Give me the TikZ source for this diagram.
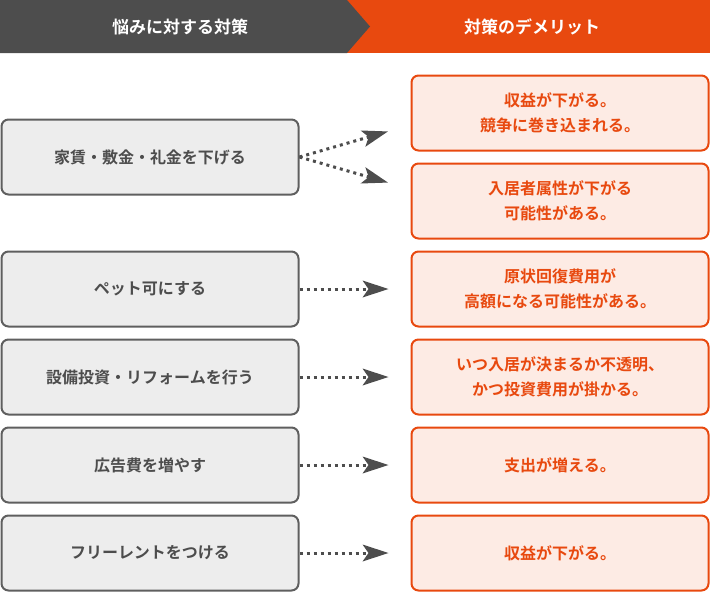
\documentclass[tikz,border=0pt]{standalone}
\usepackage{fontspec}
\newfontfamily\jp{Noto Sans CJK JP}[BoldFont={Noto Sans CJK JP Bold}]
\usetikzlibrary{arrows.meta}
\definecolor{dg}{HTML}{4D4D4D}
\definecolor{og}{HTML}{E8490F}
\definecolor{ofill}{HTML}{FDEBE4}
\begin{document}
\begin{tikzpicture}[x=1pt,y=-1pt,
 lbox/.style={draw=dg!90,line width=2pt,fill=black!7,rounded corners=7pt,minimum width=297pt,minimum height=75pt,inner sep=0pt,text=dg,font=\jp\bfseries\fontsize{16}{22}\selectfont,align=center},
 rbox/.style={draw=og,line width=2pt,fill=ofill,rounded corners=7pt,minimum width=297pt,minimum height=75pt,inner sep=0pt,text=og,font=\jp\bfseries\fontsize{16}{25}\selectfont,align=center},
 con/.style={dg,line width=3pt,dash pattern=on 3pt off 4pt,-{Stealth[length=26pt,width=17pt,inset=6pt,line width=0pt]},shorten >=-2pt}]
\useasboundingbox (0,0) rectangle (710,592);
\fill[og] (347,0) -- (710,0) -- (710,53) -- (347,53) -- cycle;
\fill[dg] (0,0) -- (347,0) -- (370,26.5) -- (347,53) -- (0,53) -- cycle;
\node[text=white,font=\jp\bfseries\fontsize{17}{20}\selectfont] (h1) at (180,26.5) {悩みに対する対策};
\node[text=white,font=\jp\bfseries\fontsize{17}{20}\selectfont] (h2) at (532,26.5) {対策のデメリット};
\node[lbox] (l1) at (150,157) {家賃・敷金・礼金を下げる};
\node[lbox] (l2) at (150,289) {ペット可にする};
\node[lbox] (l3) at (150,377) {設備投資・リフォームを行う};
\node[lbox] (l4) at (150,465) {広告費を増やす};
\node[lbox] (l5) at (150,553) {フリーレントをつける};
\node[rbox] (r1) at (560,113) {収益が下がる。\\競争に巻き込まれる。};
\node[rbox] (r2) at (560,201) {入居者属性が下がる\\可能性がある。};
\node[rbox] (r3) at (560,289) {原状回復費用が\\高額になる可能性がある。};
\node[rbox] (r4) at (560,377) {いつ入居が決まるか不透明、\\かつ投資費用が掛かる。};
\node[rbox] (r5) at (560,465) {支出が増える。};
\node[rbox] (r6) at (560,553) {収益が下がる。};
\coordinate (a1) at (386,132);
\coordinate (a2) at (386,182);
\draw[con] (l1.east) -- (a1);
\draw[con] (l1.east) -- (a2);
\foreach \l/\r in {l2/r3,l3/r4,l4/r5,l5/r6}
  \draw[con] (\l.east) -- ([xshift=-24pt]\r.west);
\end{tikzpicture}
\end{document}
